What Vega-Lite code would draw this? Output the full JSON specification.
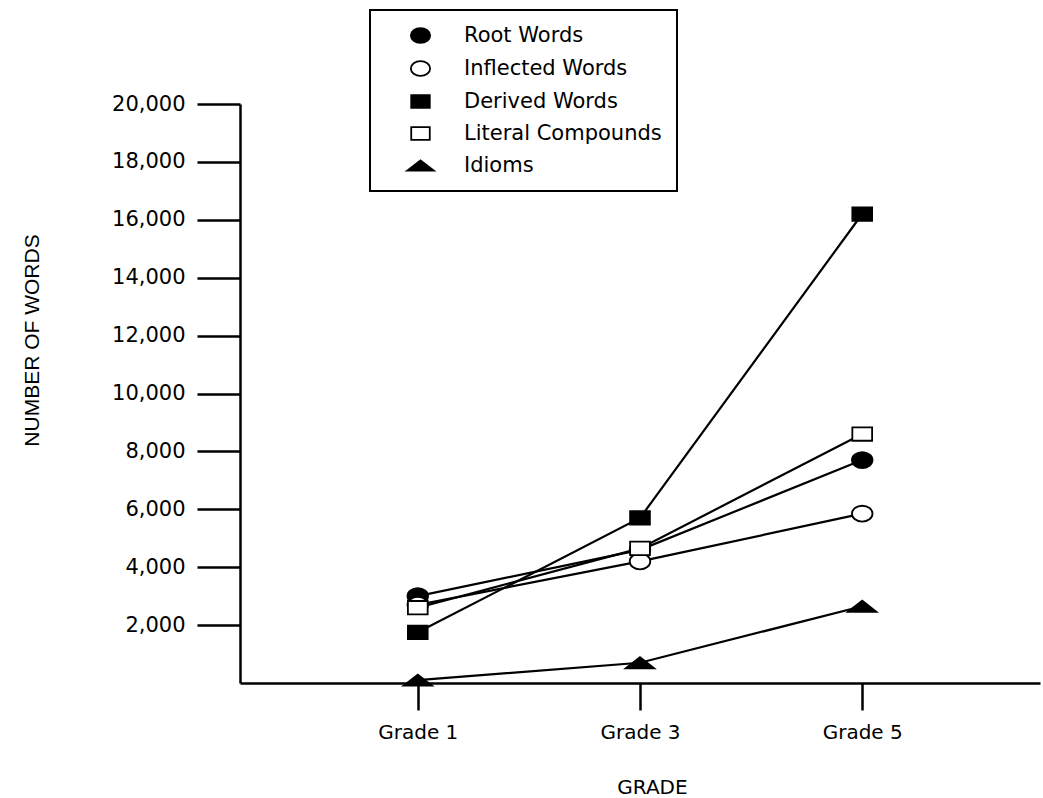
{
  "$schema": "https://vega.github.io/schema/vega-lite/v6.json",
  "autosize": "none",
  "width": 800,
  "height": 579,
  "padding": {"left": 240, "top": 104, "right": 3, "bottom": 115},
  "background": "white",
  "config": {
    "view": {"stroke": null},
    "font": "DejaVu Sans",
    "legend": {
      "strokeWidth": 2,
      "orient": "none",
      "legendX": 130,
      "legendY": -94,
      "strokeColor": "black",
      "padding": 15,
      "symbolOffset": 25,
      "labelOffset": 33,
      "labelFont": "DejaVu Sans",
      "labelFontSize": 21,
      "labelColor": "black",
      "labelLimit": 400,
      "rowPadding": 10,
      "symbolSize": 220,
      "symbolStrokeWidth": 1.8
    }
  },
  "data": {
    "values": [
      {"grade": "Grade 1", "type": "Root Words", "words": 3000},
      {"grade": "Grade 3", "type": "Root Words", "words": 4600},
      {"grade": "Grade 5", "type": "Root Words", "words": 7700},
      {"grade": "Grade 1", "type": "Inflected Words", "words": 2700},
      {"grade": "Grade 3", "type": "Inflected Words", "words": 4200},
      {"grade": "Grade 5", "type": "Inflected Words", "words": 5850},
      {"grade": "Grade 1", "type": "Derived Words", "words": 1750},
      {"grade": "Grade 3", "type": "Derived Words", "words": 5700},
      {"grade": "Grade 5", "type": "Derived Words", "words": 16200},
      {"grade": "Grade 1", "type": "Literal Compounds", "words": 2600},
      {"grade": "Grade 3", "type": "Literal Compounds", "words": 4650},
      {"grade": "Grade 5", "type": "Literal Compounds", "words": 8600},
      {"grade": "Grade 1", "type": "Idioms", "words": 100},
      {"grade": "Grade 3", "type": "Idioms", "words": 700},
      {"grade": "Grade 5", "type": "Idioms", "words": 2650}
    ]
  },
  "encoding": {
    "x": {
      "field": "grade",
      "type": "ordinal",
      "sort": ["Grade 1", "Grade 3", "Grade 5"],
      "scale": {"type": "point", "padding": 0.8},
      "axis": {
        "title": "GRADE",
        "labelAngle": 0,
        "grid": false,
        "domainColor": "black",
        "domainWidth": 2.5,
        "tickColor": "black",
        "tickWidth": 2.5,
        "tickSize": 27,
        "labelPadding": 12,
        "labelFont": "DejaVu Sans",
        "labelFontSize": 20,
        "labelColor": "black",
        "titleFont": "DejaVu Sans",
        "titleFontSize": 20,
        "titleFontWeight": "normal",
        "titleColor": "black",
        "titleX": 412,
        "titleY": 104,
        "titleAlign": "center",
        "titleBaseline": "middle"
      }
    },
    "y": {
      "field": "words",
      "type": "quantitative",
      "scale": {"domain": [0, 20000], "nice": false},
      "axis": {
        "title": "NUMBER OF WORDS",
        "values": [2000, 4000, 6000, 8000, 10000, 12000, 14000, 16000, 18000, 20000],
        "format": ",d",
        "grid": false,
        "domainColor": "black",
        "domainWidth": 2.5,
        "tickColor": "black",
        "tickWidth": 2.5,
        "tickSize": 43,
        "labelPadding": 12,
        "labelFont": "DejaVu Sans",
        "labelFontSize": 21,
        "labelColor": "black",
        "titleFont": "Liberation Sans",
        "titleFontSize": 21,
        "titleFontWeight": "normal",
        "titleColor": "black",
        "titleAngle": -90,
        "titleX": -208,
        "titleY": 236,
        "titleAlign": "center",
        "titleBaseline": "middle"
      }
    }
  },
  "layer": [
    {
      "mark": {"type": "line", "color": "black", "strokeWidth": 2.2},
      "encoding": {"detail": {"field": "type"}}
    },
    {
      "mark": {"type": "point", "filled": false, "strokeWidth": 1.8, "opacity": 1, "size": 250},
      "encoding": {
        "shape": {
          "field": "type",
          "type": "nominal",
          "title": null,
          "scale": {
            "domain": ["Root Words", "Inflected Words", "Derived Words", "Literal Compounds", "Idioms"],
            "range": [
              "M-1.3,0A1.3,1,0,1,0,1.3,0A1.3,1,0,1,0,-1.3,0Z",
              "M-1.3,0A1.3,1,0,1,0,1.3,0A1.3,1,0,1,0,-1.3,0Z",
              "M-1.25,-0.85L1.25,-0.85L1.25,0.85L-1.25,0.85Z",
              "M-1.25,-0.85L1.25,-0.85L1.25,0.85L-1.25,0.85Z",
              "M-1.8,0.7L0,-0.7L1.8,0.7Z"
            ]
          }
        },
        "fill": {
          "field": "type",
          "type": "nominal",
          "title": null,
          "scale": {
            "domain": ["Root Words", "Inflected Words", "Derived Words", "Literal Compounds", "Idioms"],
            "range": ["black", "white", "black", "white", "black"]
          }
        },
        "stroke": {
          "field": "type",
          "type": "nominal",
          "title": null,
          "scale": {
            "domain": ["Root Words", "Inflected Words", "Derived Words", "Literal Compounds", "Idioms"],
            "range": ["black", "black", "black", "black", "black"]
          }
        }
      }
    }
  ]
}
